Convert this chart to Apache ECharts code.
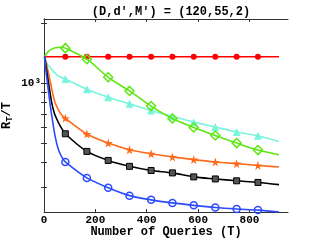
<!DOCTYPE html>
<html><head><meta charset="utf-8">
<script src="https://cdn.jsdelivr.net/npm/echarts@6/dist/echarts.min.js"></script>
<style>html,body{margin:0;padding:0;background:#fff}#c{width:319px;height:240px}</style>
</head><body><div id="c"></div>
<script>
const titleText = "(D,d\u2032,M\u2032) = (120,55,2)";
const xName = "Number of Queries (T)";
const xTicks = [0, 200, 400, 600, 800];
const yTicks = [300, 400, 500, 600, 700, 800, 900, 1000, 2000];
const yLabels = [1000];
const markT = [83, 167, 250, 333, 417, 500, 583, 667, 750, 833];
const tStart = 2, tEnd = 915;

const redEarly = [];
const redMarks = [1359, 1359, 1359, 1359, 1359, 1359, 1359, 1359, 1359, 1359];
const redStart = 1359, redEnd = 1359;

const greenEarly = [[12, 1420], [25, 1470], [45, 1505], [65, 1515]];
const greenMarks = [1500, 1320, 1071, 915, 768, 665, 600, 547, 501, 462];
const greenStart = 1359, greenEnd = 438;

const cyanEarly = [[8, 1290], [14, 1240], [23, 1205], [33, 1160], [44, 1120], [60, 1080]];
const cyanMarks = [1051, 933, 851, 788, 729, 681, 638, 603, 569, 545];
const cyanStart = 1359, cyanEnd = 510;

const orangeEarly = [[7, 1290], [12, 1211], [23, 1039], [33, 900], [43, 800], [55, 740], [68, 695]];
const orangeMarks = [668, 556, 501, 464, 443, 427, 414, 403, 395, 387];
const orangeStart = 1359, orangeEnd = 380;

const blackEarly = [[7, 1240], [13, 1100], [20, 960], [30, 800], [40, 710], [50, 660], [64, 608]];
const blackMarks = [558, 455, 410, 383, 365, 355, 339, 331, 324, 318];
const blackStart = 1359, blackEnd = 310;

const blueEarly = [[6, 1200], [11, 1060], [17, 920], [23, 800], [30, 690], [43, 545], [56, 465], [70, 425]];
const blueMarks = [403, 335, 299, 273, 260, 251, 244, 238, 234, 231];
const blueStart = 1359, blueEnd = 226;

function build(start, early, marks, end) {
  const d = [{value: [tStart, start], symbol: 'none'}];
  early.forEach(p => d.push({value: p, symbol: 'none'}));
  marks.forEach((v, i) => d.push([markT[i], v]));
  d.push({value: [tEnd, end], symbol: 'none'});
  return d;
}
const STAR = 'path://M50,0 L61,35 L98,35 L68,57 L79,91 L50,70 L21,91 L32,57 L2,35 L39,35 Z';
const FONT = 'Liberation Mono';

function ser(name, data, color, symbol, size, item, z) {
  return {
    name, type: 'line', data, smooth: 0.3,
    symbol, symbolSize: size, showAllSymbol: true, z: z,
    lineStyle: {color, width: 1.6},
    itemStyle: item,
    emphasis: {disabled: true}, animation: false
  };
}

const chart = echarts.init(document.getElementById('c'), null, {renderer: 'canvas'});
const axisLine = {show: true, lineStyle: {color: '#333', width: 1}};
chart.setOption({
  animation: false,
  title: {text: titleText, left: 166, textAlign: 'center', top: 1,
    textStyle: {fontFamily: FONT, fontWeight: 'bold', fontSize: 12, color: '#000'}},
  grid: {left: 44, right: 31, top: 19, bottom: 28, outerBoundsMode: 'none', containLabel: false},
  xAxis: [{
    type: 'value', min: 0, max: 950, position: 'bottom',
    name: xName, nameLocation: 'middle', nameGap: 14, nameMoveOverlap: false,
    nameTextStyle: {fontFamily: FONT, fontWeight: 'bold', fontSize: 12, color: '#000'},
    axisLine, splitLine: {show: false},
    axisTick: {inside: true, length: 3, customValues: xTicks, lineStyle: {color: '#333'}},
    axisLabel: {customValues: xTicks, margin: 3, fontFamily: FONT, fontWeight: 'bold', fontSize: 11, color: '#000'}
  }, {
    type: 'value', min: 0, max: 950, position: 'top',
    axisLine, splitLine: {show: false},
    axisTick: {inside: true, length: 3, customValues: xTicks, lineStyle: {color: '#333'}},
    axisLabel: {show: false}
  }],
  yAxis: [{
    type: 'log', min: 226, max: 2100, position: 'left',
    name: '{r|R}{s|T}{r|/T}', nameLocation: 'middle', nameGap: 30, nameRotate: 90, nameMoveOverlap: false,
    nameTextStyle: {rich: {
      r: {fontFamily: FONT, fontWeight: 'bold', fontSize: 12, color: '#000'},
      s: {fontFamily: FONT, fontWeight: 'bold', fontSize: 9, color: '#000', padding: [5, 0, 0, 0]}
    }},
    axisLine, splitLine: {show: false},
    axisTick: {inside: true, length: 3, customValues: yTicks, lineStyle: {color: '#333'}},
    axisLabel: {customValues: yLabels, margin: 3, fontFamily: FONT, fontWeight: 'bold', fontSize: 11, color: '#000',
      formatter: v => '10\u00b3'}
  }, {
    type: 'log', min: 226, max: 2100, position: 'right',
    axisLine, splitLine: {show: false},
    axisTick: {inside: true, length: 3, customValues: yTicks, lineStyle: {color: '#333'}},
    axisLabel: {show: false}
  }],
  series: [
    ser('red', build(redStart, redEarly, redMarks, redEnd), '#ff0000', 'circle', 6, {color: '#ff0000'}, 3),
    ser('green', build(greenStart, greenEarly, greenMarks, greenEnd), '#5ee612', 'diamond', 9,
      {color: 'rgba(255,255,255,0)', borderColor: '#5ee612', borderWidth: 1.5}, 4),
    ser('cyan', build(cyanStart, cyanEarly, cyanMarks, cyanEnd), '#78f5dc', 'triangle', 8, {color: '#78f5dc'}, 2),
    ser('orange', build(orangeStart, orangeEarly, orangeMarks, orangeEnd), '#ff6a1a', STAR, 9, {color: '#ff6a1a'}, 5),
    ser('black', build(blackStart, blackEarly, blackMarks, blackEnd), '#000000', 'rect', 6,
      {color: '#555', borderColor: '#000', borderWidth: 1}, 6),
    ser('blue', build(blueStart, blueEarly, blueMarks, blueEnd), '#2b4bff', 'circle', 7,
      {color: 'rgba(255,255,255,0)', borderColor: '#2b4bff', borderWidth: 1.5}, 7)
  ]
});
</script></body></html>
